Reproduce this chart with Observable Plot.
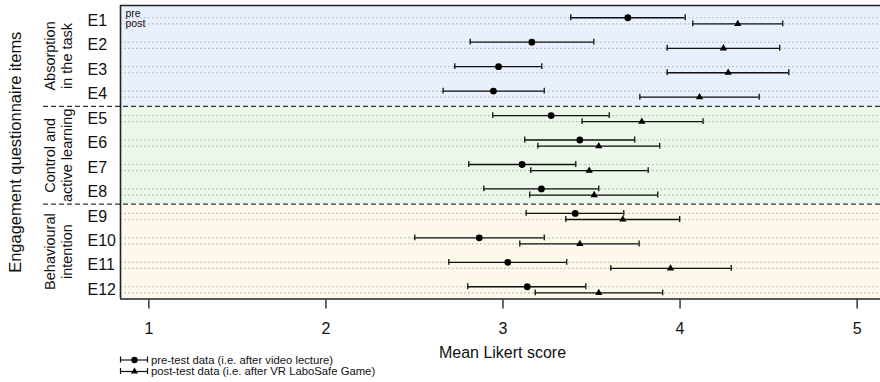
<!DOCTYPE html>
<html><head><meta charset="utf-8">
<script src="https://cdn.jsdelivr.net/npm/d3@7"></script>
<script src="https://cdn.jsdelivr.net/npm/@observablehq/plot@0.6"></script>
<style>
body{margin:0;background:#fff;}
#wrap{position:relative;width:880px;height:382px;overflow:hidden;background:#fff;}
#wrap svg{display:block;}
#legend{position:absolute;left:0;top:352px;}
</style></head><body><div id="wrap"><div id="main"></div><div id="legend"></div></div>
<script>
// ---- data ----
const items = ["E1","E2","E3","E4","E5","E6","E7","E8","E9","E10","E11","E12"];
const preMean  = [3.705, 3.163, 2.975, 2.946, 3.272, 3.434, 3.108, 3.217, 3.408, 2.866, 3.027, 3.137];
const preLow   = [3.383, 2.815, 2.728, 2.662, 2.942, 3.123, 2.807, 2.892, 3.131, 2.502, 2.694, 2.801];
const preHigh  = [4.029, 3.513, 3.219, 3.233, 3.600, 3.744, 3.411, 3.541, 3.682, 3.233, 3.360, 3.468];
const postMean = [4.326, 4.245, 4.272, 4.110, 3.784, 3.541, 3.487, 3.515, 3.677, 3.434, 3.946, 3.541];
const postLow  = [4.072, 3.927, 3.927, 3.773, 3.447, 3.197, 3.157, 3.151, 3.355, 3.095, 3.609, 3.182];
const postHigh = [4.580, 4.563, 4.614, 4.447, 4.130, 3.885, 3.820, 3.874, 3.998, 3.769, 4.289, 3.902];
const groups = ["Absorption\nin the task", "Control and\nactive learning", "Behavioural\nintention"];
const groupSizes = [4, 4, 4];
const groupColors = ["#e9f0fd", "#ebf7e9", "#fdf8e9"];
const xTicks = [1, 2, 3, 4, 5];
const xLabel = "Mean Likert score";
const yLabel = "Engagement questionnaire items";
const phaseLabels = ["pre", "post"];
const legendLabels = ["pre-test data (i.e. after video lecture)", "post-test data (i.e. after VR LaboSafe Game)"];

// ---- layout ----
const FONT = "'Liberation Sans', Arial, Helvetica, sans-serif";
const W = 880, H = 382, mL = 120, mT = 5, mB = 382 - 298.5, mR = 0;
const xDomain = [0.84, 5.132];
const n = items.length;
const unitsPerPx = (xDomain[1] - xDomain[0]) / (W - mL - mR);

const rows = items.map((name, i) => ({
  name, preY: i + 0.5, postY: i + 0.75, labelY: i + 0.625,
  preMean: preMean[i], preLow: preLow[i], preHigh: preHigh[i],
  postMean: postMean[i], postLow: postLow[i], postHigh: postHigh[i]
}));
let acc = 0;
const groupRows = groups.map((label, k) => {
  const start = acc; acc += groupSizes[k];
  const y1 = k === 0 ? 0 : start + 0.125;
  const y2 = k === groups.length - 1 ? n : acc + 0.125;
  return {label, y1, y2, color: groupColors[k]};
});
const dividers = groupRows.slice(1).map(g => g.y1);
const caps = rows.flatMap(r => [
  {x: r.preLow, y: r.preY}, {x: r.preHigh, y: r.preY},
  {x: r.postLow, y: r.postY}, {x: r.postHigh, y: r.postY}
]);
const capH = 0.12;

const main = Plot.plot({
  width: W, height: H,
  marginLeft: mL, marginTop: mT, marginBottom: mB, marginRight: mR,
  style: {fontFamily: FONT, fontSize: "16px", background: "#fff", color: "#000", overflow: "visible"},
  x: {domain: xDomain, axis: null},
  y: {domain: [0, n], range: [mT, H - mB], axis: null},
  marks: [
    ...groupRows.map(g => Plot.rect([g], {x1: xDomain[0], x2: xDomain[1], y1: "y1", y2: "y2", fill: g.color})),
    Plot.ruleY(rows.flatMap(r => [r.preY, r.postY]), {stroke: "#c4c4c4", strokeWidth: 1.2, strokeDasharray: "2,2"}),
    Plot.ruleY(dividers, {x1: xDomain[0] - 77 * unitsPerPx, x2: xDomain[1], stroke: "#333", strokeWidth: 1.3, strokeDasharray: "5,3"}),
    Plot.ruleY([0, n], {stroke: "#222", strokeWidth: 1.6}),
    Plot.ruleX([xDomain[0]], {y1: 0, y2: n, stroke: "#222", strokeWidth: 1.6}),
    Plot.axisX(xTicks, {tickSize: 10, tickPadding: 14, fontSize: 16, stroke: "#444", strokeWidth: 1.6, fill: "#111", label: null, tickFormat: d => String(d)}),
    // error bars
    Plot.ruleY(rows, {y: "preY", x1: "preLow", x2: "preHigh", stroke: "#111", strokeWidth: 1.3}),
    Plot.ruleY(rows, {y: "postY", x1: "postLow", x2: "postHigh", stroke: "#111", strokeWidth: 1.3}),
    Plot.ruleX(caps, {x: "x", y1: d => d.y - capH, y2: d => d.y + capH, stroke: "#111", strokeWidth: 1.3}),
    Plot.dot(rows, {x: "preMean", y: "preY", r: 3.4, fill: "#000", stroke: "none"}),
    Plot.dot(rows, {x: "postMean", y: "postY", r: 2.7, symbol: "triangle", fill: "#000", stroke: "none"}),
    // labels
    Plot.text(rows, {y: "labelY", text: "name", frameAnchor: "left", dx: -33, textAnchor: "start", fontSize: 16, fill: "#111"}),
    Plot.text(groupRows, {y: d => (d.y1 + d.y2) / 2, text: "label", frameAnchor: "left", dx: -62.5, rotate: -90, textAnchor: "middle", lineAnchor: "middle", fontSize: 14.5, lineHeight: 1.17, fill: "#111"}),
    Plot.text([yLabel], {y: n / 2, frameAnchor: "left", dx: -105, rotate: -90, textAnchor: "middle", lineAnchor: "middle", fontSize: 16.5, fill: "#111"}),
    Plot.text([phaseLabels.join("\n")], {frameAnchor: "top-left", dx: 5, dy: 4, textAnchor: "start", lineAnchor: "top", fontSize: 10.5, lineHeight: 1.0, fill: "#111"}),
    Plot.text([xLabel], {frameAnchor: "bottom", dx: 2, dy: 58.5, fontSize: 16, fill: "#111"})
  ]
});
document.getElementById("main").appendChild(main);

// ---- legend ----
const legRows = legendLabels.map((label, k) => ({label, y: k === 0 ? 7.5 : 19}));
const legCaps = legRows.flatMap(d => [{x: 120, y: d.y}, {x: 147, y: d.y}]);
const legend = Plot.plot({
  width: 340, height: 30, margin: 0,
  style: {fontFamily: FONT, background: "transparent", overflow: "visible"},
  x: {domain: [0, 340], range: [0, 340], axis: null},
  y: {domain: [0, 30], range: [0, 30], axis: null},
  marks: [
    Plot.ruleY(legRows, {y: "y", x1: 120, x2: 147, stroke: "#111", strokeWidth: 1.2}),
    Plot.ruleX(legCaps, {x: "x", y1: d => d.y - 3, y2: d => d.y + 3, stroke: "#111", strokeWidth: 1.2}),
    Plot.dot(legRows.slice(0, 1), {x: 134, y: "y", r: 3.2, fill: "#000", stroke: "none"}),
    Plot.dot(legRows.slice(1), {x: 134, y: "y", r: 2.6, symbol: "triangle", fill: "#000", stroke: "none"}),
    Plot.text(legRows, {x: 150.5, y: "y", text: "label", textAnchor: "start", fontSize: 11.3, fill: "#111"})
  ]
});
document.getElementById("legend").appendChild(legend);
</script></body></html>
